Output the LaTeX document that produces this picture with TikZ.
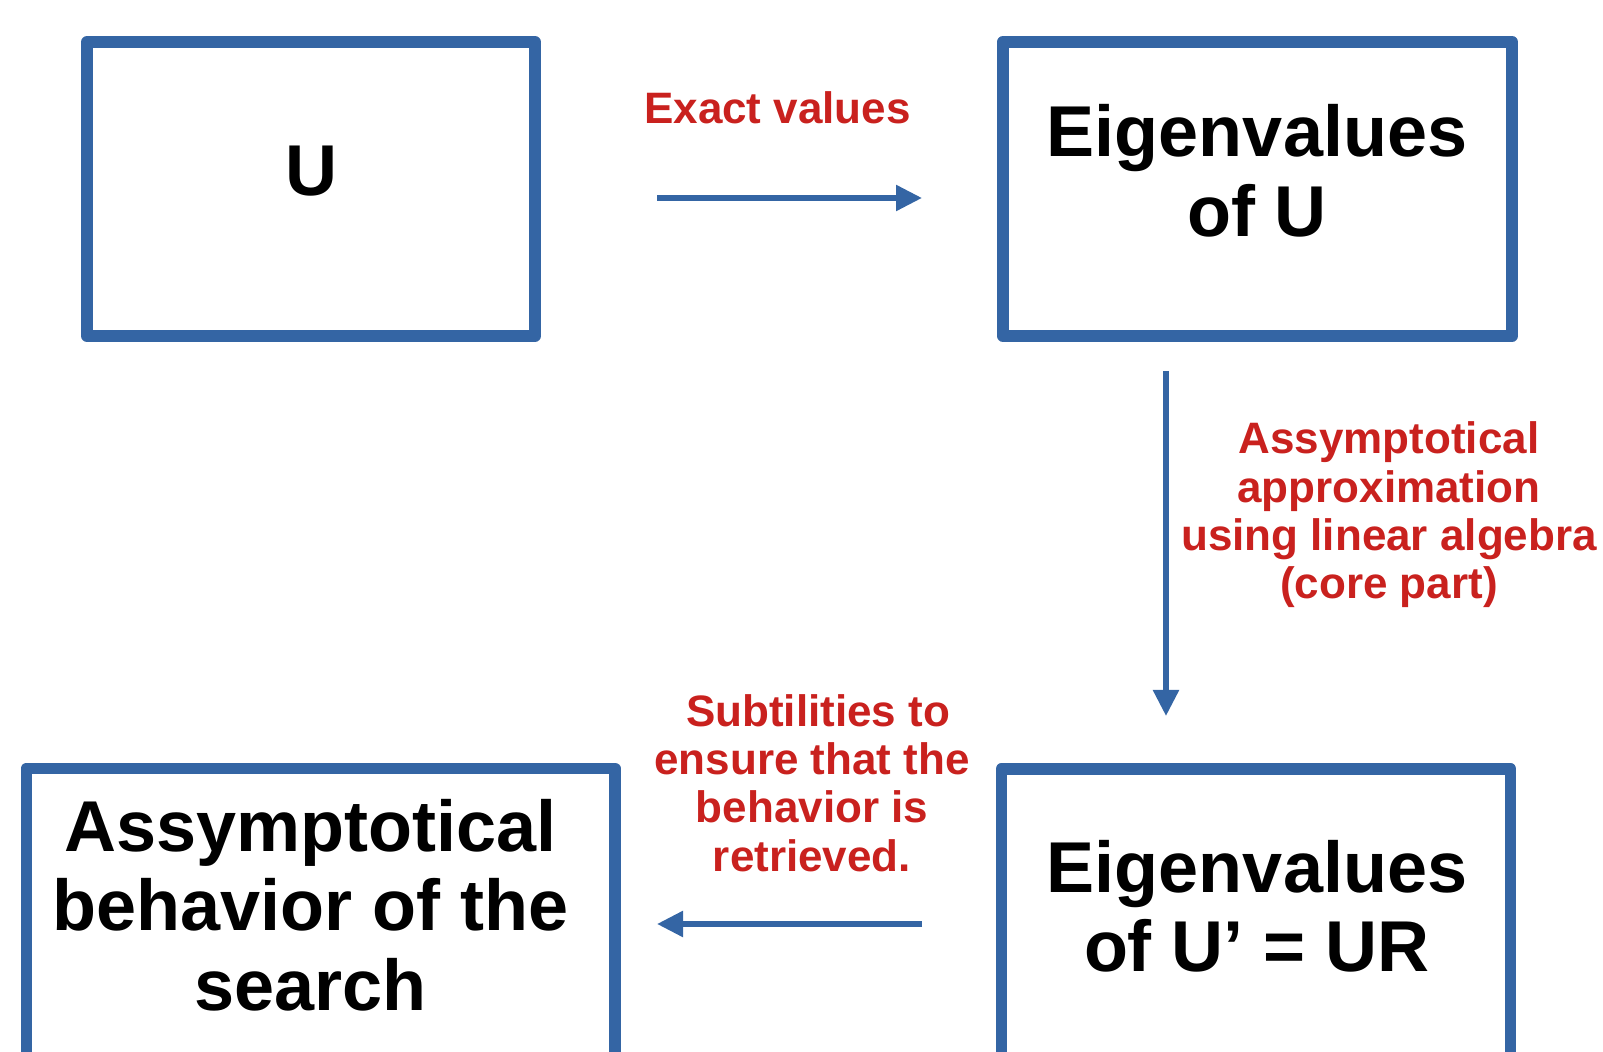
\documentclass[tikz,border=0pt]{standalone}
\usepackage{fontspec}
\setmainfont{Liberation Sans}
\usetikzlibrary{arrows.meta}
\definecolor{boxblue}{HTML}{3465A4}
\definecolor{notered}{HTML}{C9211E}

\begin{document}
\begin{tikzpicture}[
  x=0.5pt, y=-0.5pt,
  blk/.style={draw=boxblue, line width=5.8pt, line join=round, minimum height=147pt, inner sep=0pt},
  bigtxt/.style={font=\fontsize{36}{39.75}\selectfont\bfseries, align=center, inner sep=0pt},
  note/.style={font=\fontsize{22}{24.2}\selectfont\bfseries, text=notered, align=center, inner sep=0pt},
  flow/.style={draw=boxblue, line width=2.75pt, -{Triangle[length=13pt,width=12.5pt]}},
]

\useasboundingbox (0,0) rectangle (1603,1052);

% the four boxes
\node [blk, minimum width=224pt] (u) at (311,189) {};
\node [blk, minimum width=254.75pt] (eigu) at (1257.5,189) {};
\node [blk, minimum width=294.35pt] (beh) at (320.65,915.5) {};
\node [blk, minimum width=254.6pt] (eigur) at (1256,916) {};

\node [bigtxt] (ut) at (311,171) {U};
\node [bigtxt] (eigut) at (1257,171) {Eigenvalues\\of U};
\node [bigtxt] (beht) at (310.7,905) {Assymptotical\\behavior of the\\search};
\node [bigtxt] (eigurt) at (1257,906.5) {Eigenvalues\\of U’ = UR};

% arrow ends
\coordinate (a1) at (657,198);
\coordinate (a2) at (922,198);
\coordinate (b1) at (1166,371);
\coordinate (b2) at (1166,716);
\coordinate (c1) at (922,924);
\coordinate (c2) at (657,924);

\draw [flow] (a1) -- (a2);
\draw [flow] (b1) -- (b2);
\draw [flow] (c1) -- (c2);

\node [note] (exact) at (777.5,108) {Exact values};
\node [note] (approx) at (1389,515) {Assymptotical\\approximation\\using linear algebra\\(core part)};
\node [note] (subtle) at (812,783) {\hspace*{6pt}Subtilities to\\ensure that the\\behavior is\\retrieved.};

\end{tikzpicture}
\end{document}
